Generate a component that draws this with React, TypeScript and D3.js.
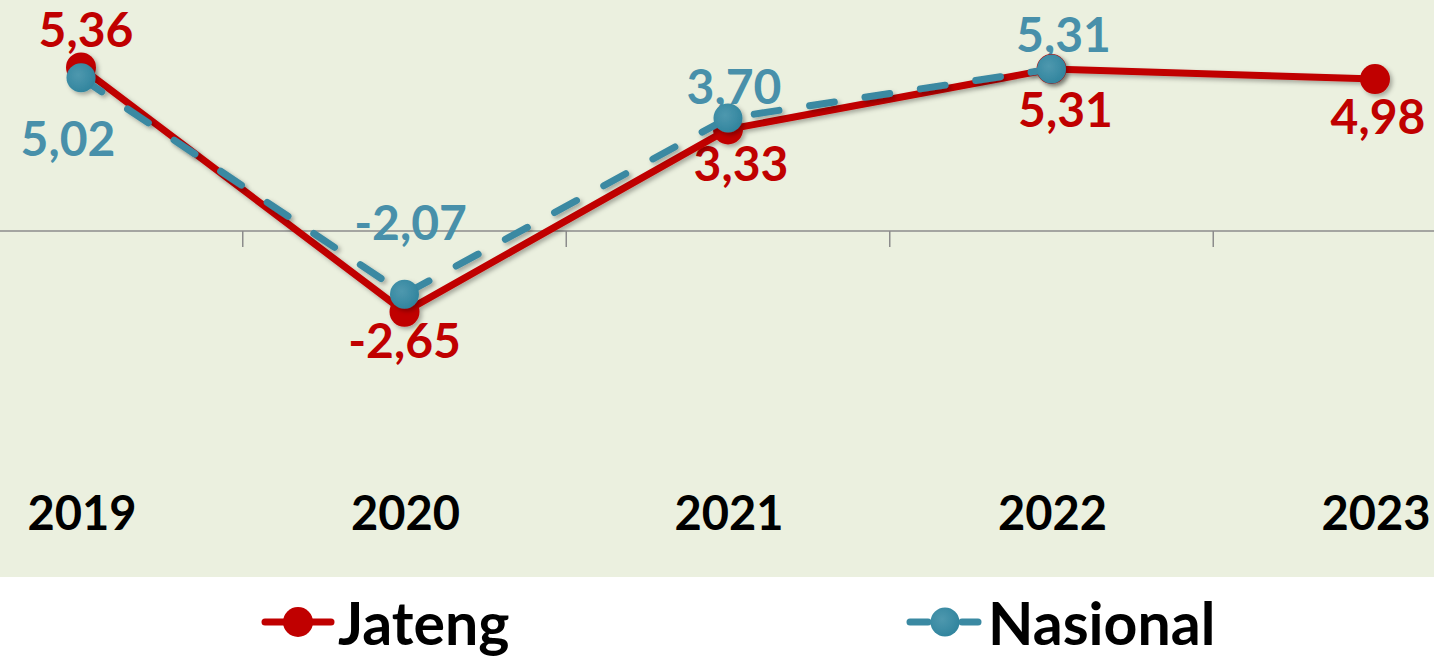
import React from "react";
import * as d3 from "d3";

const years = ["2019", "2020", "2021", "2022", "2023"];
const jateng = [5.36, -2.65, 3.33, 5.31, 4.98];
const nasional: (number | null)[] = [5.02, -2.07, 3.7, 5.31, null];
const jatengLabels = ["5,36", "-2,65", "3,33", "5,31", "4,98"];
const nasionalLabels = ["5,02", "-2,07", "3,70", "5,31", ""];

const W = 1434;
const H = 657;
const RED = "#C00000";
const TEAL = "#3A89A2";
const TEAL_LABEL = "#4890AA";
const FONT = "Lato, 'Open Sans', sans-serif";

// label offsets relative to the point (dx, dy to baseline)
const jOff: [number, number][] = [[5, -20], [0, 46], [13, 52], [14, 58], [3, 55]];
const nOff: [number, number][] = [[-13, 78], [6, -54], [6, -14], [12, -17], [0, 0]];

export default function App() {
  const x = d3.scalePoint<string>().domain(years).range([81, 1375]);
  const y = d3.scaleLinear().domain([0, 5.31]).range([231, 69]);
  const step = x.step();
  const ticks = years.slice(0, -1).map((yr) => (x(yr) as number) + step / 2);

  const lineJ = d3
    .line<number>()
    .x((_, i) => x(years[i]) as number)
    .y((d) => y(d));
  const nasPts = nasional
    .map((v, i) => ({ v, i }))
    .filter((d) => d.v !== null) as { v: number; i: number }[];
  const lineN = d3
    .line<{ v: number; i: number }>()
    .x((d) => x(years[d.i]) as number)
    .y((d) => y(d.v));

  return (
    <svg
      width={W}
      height={H}
      style={{ position: "absolute", left: 0, top: 0, display: "block" }}
    >
      <defs>
        <filter id="sh" x="-20%" y="-20%" width="140%" height="140%">
          <feDropShadow dx="2.5" dy="2.5" stdDeviation="2" floodColor="#000" floodOpacity="0.3" />
        </filter>
        <radialGradient id="tg" cx="0.4" cy="0.4" r="0.6">
          <stop offset="0" stopColor="#4E98AE" />
          <stop offset="0.55" stopColor="#3F8EA6" />
          <stop offset="1" stopColor="#32859E" />
        </radialGradient>
      </defs>
      <rect x={0} y={0} width={W} height={577} fill="#EBF0DF" />
      <rect x={0} y={577} width={W} height={H - 577} fill="#FFFFFF" />
      {/* axis */}
      <line x1={0} x2={W} y1={y(0)} y2={y(0)} stroke="#8C8C8C" strokeWidth={1.5} />
      {ticks.map((t, i) => (
        <line key={i} x1={t} x2={t} y1={y(0)} y2={y(0) + 16} stroke="#8C8C8C" strokeWidth={1.5} />
      ))}
      {years.map((yr) => (
        <text
          key={yr}
          x={(x(yr) as number) + 1}
          y={530}
          textAnchor="middle"
          fontFamily={FONT}
          fontWeight={700}
          fontSize={47}
          fill="#000"
        >
          {yr}
        </text>
      ))}
      {/* labels */}
      {jateng.map((v, i) => (
        <text
          key={"jl" + i}
          x={(x(years[i]) as number) + jOff[i][0]}
          y={y(v) + jOff[i][1]}
          textAnchor="middle"
          fontFamily={FONT}
          fontWeight={700}
          fontSize={48}
          fill={RED}
        >
          {jatengLabels[i]}
        </text>
      ))}
      {nasPts.map((d) => (
        <text
          key={"nl" + d.i}
          x={(x(years[d.i]) as number) + nOff[d.i][0]}
          y={y(d.v) + nOff[d.i][1]}
          textAnchor="middle"
          fontFamily={FONT}
          fontWeight={700}
          fontSize={48}
          fill={TEAL_LABEL}
        >
          {nasionalLabels[d.i]}
        </text>
      ))}
      {/* Jateng series */}
      <g filter="url(#sh)">
        <path d={lineJ(jateng) || ""} fill="none" stroke={RED} strokeWidth={7} strokeLinejoin="round" />
        {jateng.map((v, i) => (
          <circle key={"jc" + i} cx={x(years[i]) as number} cy={y(v)} r={15} fill={RED} />
        ))}
      </g>
      {/* Nasional series */}
      <g filter="url(#sh)">
        <path
          d={lineN(nasPts) || ""}
          fill="none"
          stroke={TEAL}
          strokeWidth={7}
          strokeDasharray="25 31"
          strokeLinecap="round"
          strokeLinejoin="round"
        />
        {nasPts.map((d) => (
          <circle key={"nc" + d.i} cx={x(years[d.i]) as number} cy={y(d.v)} r={14.5} fill="url(#tg)" />
        ))}
      </g>
      {/* legend */}
      <g>
        <line x1={265} x2={331} y1={622} y2={622} stroke={RED} strokeWidth={7} strokeLinecap="round" />
        <circle cx={298} cy={622} r={15} fill={RED} />
        <text x={338} y={645} fontFamily={FONT} fontWeight={700} fontSize={59} fill="#000">
          Jateng
        </text>
        <line x1={910} x2={928} y1={622} y2={622} stroke={TEAL} strokeWidth={7} strokeLinecap="round" />
        <line x1={962} x2={978} y1={622} y2={622} stroke={TEAL} strokeWidth={7} strokeLinecap="round" />
        <circle cx={945} cy={622} r={14.5} fill="url(#tg)" />
        <text x={988} y={645} fontFamily={FONT} fontWeight={700} fontSize={59} fill="#000">
          Nasional
        </text>
      </g>
    </svg>
  );
}
